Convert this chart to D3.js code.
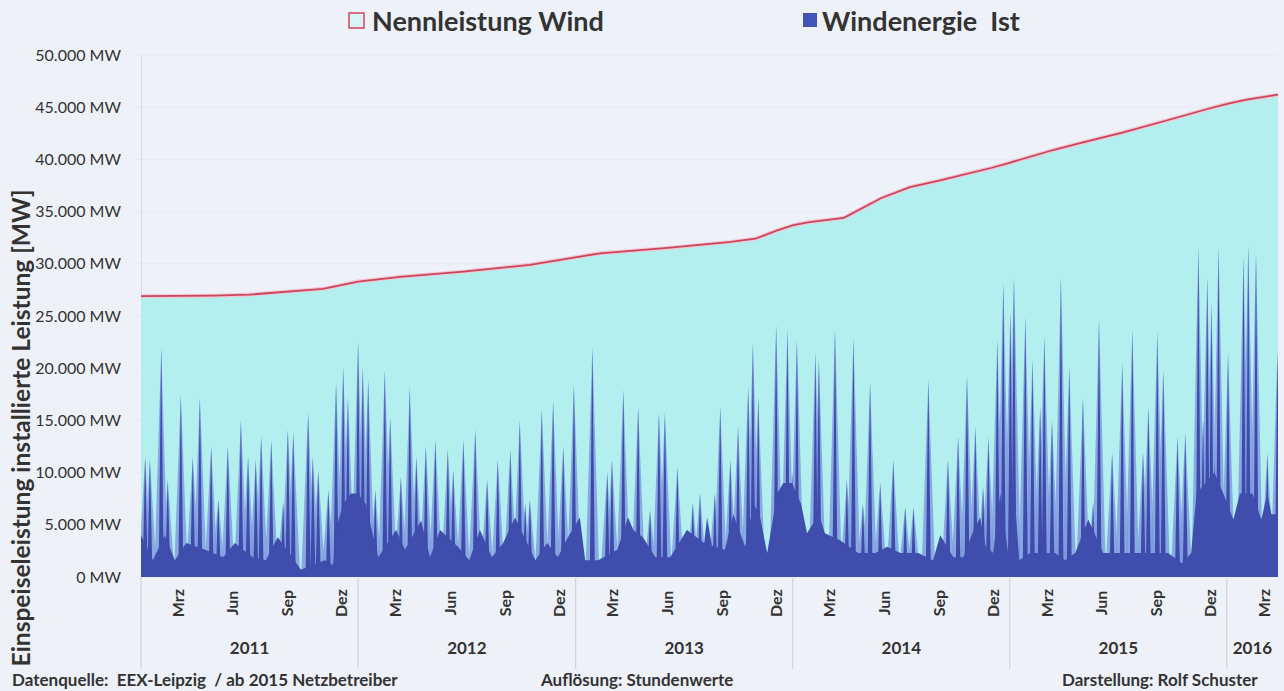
<!DOCTYPE html>
<html>
<head>
<meta charset="utf-8">
<script src="https://cdn.jsdelivr.net/npm/d3@7"></script>
<style>
   body { margin: 0; background: #eef1f8; }
   text { font-family: Lato, "Open Sans", sans-serif; fill: #333; }
</style>
</head>
<body>
<div id="chart"></div>
<script>
//--------------------------------------------------------------
// DATA (days counted from 1 Jan 2011, values in MW)
//--------------------------------------------------------------
// installed capacity (Nennleistung)
var capacityDays = [0, 121, 183, 306, 365, 436, 542, 654, 733, 772, 881, 992, 1033, 1070, 1097,
   1124, 1182, 1245, 1293, 1344, 1431, 1462, 1534, 1579, 1652, 1726, 1798, 1825, 1857, 1912];
var capacityMW = [26900, 26950, 27050, 27600, 28300, 28750, 29250, 29900, 30650, 31000, 31500, 32100, 32400, 33200, 33700,
   34000, 34400, 36300, 37350, 38000, 39200, 39700, 40900, 41550, 42600, 43750, 44900, 45300, 45700, 46200];

// wind feed-in: storm peaks
var spikeDays = [7, 15, 34, 45, 67, 87, 99, 118, 130, 146, 168, 180, 193, 202, 219, 239, 247, 256, 281, 289,
   298, 315, 328, 340, 348, 365, 373, 382, 394, 410, 419, 437, 452, 463, 479, 495, 516, 525, 542, 562,
   582, 600, 621, 637, 646, 654, 674, 693, 710, 728, 759, 784, 792, 811, 836, 856, 871, 881, 902, 928,
   940, 965, 974, 991, 1004, 1021, 1029, 1038, 1068, 1087, 1095, 1103, 1134, 1140, 1167, 1187, 1198, 1214, 1226, 1243,
   1265, 1285, 1299, 1324, 1357, 1374, 1389, 1403, 1416, 1425, 1440, 1450, 1462, 1468, 1487, 1499, 1512, 1519, 1532, 1547,
   1561, 1584, 1601, 1611, 1633, 1650, 1667, 1685, 1694, 1709, 1719, 1743, 1756, 1778, 1786, 1793, 1800, 1805, 1812, 1828,
   1854, 1862, 1875, 1894, 1911];
var spikeMW = [11500, 11200, 21900, 9300, 17400, 11500, 17200, 12500, 7400, 12500, 15000, 11500, 11200, 13400, 13100, 7100, 14100, 13800, 15700, 11500,
   10200, 8300, 18600, 20100, 17200, 22500, 20100, 18900, 8300, 19800, 15300, 9600, 18200, 11500, 12500, 13100, 12200, 10200, 13100, 14100,
   9300, 11200, 12200, 15000, 7000, 7400, 16000, 16800, 12500, 18400, 22000, 10000, 11200, 17900, 16300, 6400, 15700, 15700, 10500, 7100,
   8000, 8000, 16300, 11200, 14400, 18200, 22400, 17200, 24100, 23700, 10000, 22700, 21500, 20800, 23700, 9300, 22900, 7000, 18600, 9000,
   11200, 6700, 6700, 18900, 11200, 13400, 19200, 14400, 8600, 13400, 22700, 28200, 25300, 28700, 24900, 20800, 16300, 23000, 15000, 28700,
   20100, 17200, 7100, 24600, 11900, 20500, 23700, 11900, 16300, 23400, 19800, 13400, 13800, 31600, 15000, 28700, 26200, 11000, 31600, 21500,
   30700, 31800, 31000, 11900, 21500];

// wind feed-in: low level between the peaks
var baseDays = [0, 20, 40, 57, 76, 108, 138, 158, 188, 210, 230, 269, 309, 323, 330, 340, 353, 365, 378, 390,
   399, 429, 444, 471, 486, 503, 533, 552, 570, 590, 609, 629, 663, 683, 701, 718, 738, 747, 769, 801,
   819, 828, 844, 865, 890, 918, 947, 952, 960, 982, 996, 1016, 1030, 1040, 1053, 1070, 1080, 1095, 1110, 1120,
   1140, 1150, 1176, 1206, 1235, 1255, 1277, 1307, 1332, 1344, 1366, 1383, 1398, 1411, 1420, 1433, 1445, 1458, 1470, 1477,
   1495, 1505, 1526, 1537, 1554, 1571, 1593, 1618, 1642, 1658, 1675, 1702, 1727, 1751, 1766, 1775, 1790, 1805, 1820, 1837,
   1848, 1869, 1884, 1894, 1901, 1912];
var baseMW = [4000, 1600, 4000, 1600, 3250, 2600, 1900, 3250, 1900, 1600, 3800, 700, 1600, 1150, 5000, 7000, 8000, 8000, 7000, 4000,
   1900, 4500, 2600, 5400, 1900, 4500, 2900, 1600, 4500, 1900, 3250, 5700, 1600, 3250, 1900, 3800, 5700, 1600, 1600, 2600,
   5700, 4500, 3800, 1900, 1900, 4500, 3250, 5700, 3000, 2600, 6000, 2900, 7000, 6000, 2300, 8000, 9000, 9000, 7000, 4200,
   6000, 4200, 3500, 2300, 2300, 2900, 2300, 2300, 1600, 4000, 1900, 1900, 4200, 5700, 3000, 2300, 8000, 2300, 7000, 1600,
   2300, 2300, 2300, 2300, 1600, 2300, 5500, 2300, 2300, 2300, 2300, 2300, 2300, 1300, 2300, 8000, 9000, 10000, 8000, 5500,
   8000, 8000, 5500, 8000, 6000, 6000];

var yTicks = [0, 5000, 10000, 15000, 20000, 25000, 30000, 35000, 40000, 45000, 50000];
var monthIndex = [2, 5, 8, 11];
var monthLabels = ["Mrz", "Jun", "Sep", "Dez"];
var years = [2011, 2012, 2013, 2014, 2015, 2016];
var legendLabels = ["Nennleistung Wind", "Windenergie  Ist"];
var yTitle = "Einspeiseleistung installierte Leistung [MW]";
var footerTexts = ["Datenquelle:  EEX-Leipzig  / ab 2015 Netzbetreiber", "Auflösung: Stundenwerte", "Darstellung: Rolf Schuster"];

//--------------------------------------------------------------
// CHART SIZE PARAMETERS
//--------------------------------------------------------------
var width = 1284;
var height = 691;
var margin = { top: 55, right: 6, bottom: 114, left: 141 };
var chartWidth = width - margin.left - margin.right;
var chartHeight = height - margin.top - margin.bottom;

var startDate = new Date(2011, 0, 1);
var endDate = d3.timeDay.offset(startDate, 1912);
function toDate(n) { return d3.timeDay.offset(startDate, n); }

var capacity = capacityDays.map((d, i) => ({ date: toDate(d), value: capacityMW[i] }));
var spikes = spikeDays.map((d, i) => ({ date: toDate(d), value: spikeMW[i] }));
var base = baseDays.map((d, i) => ({ date: toDate(d), value: baseMW[i] }));

var de = d3.formatLocale({ decimal: ",", thousands: ".", grouping: [3], currency: ["", " €"] });
var fmt = de.format(",");

//--------------------------------------------------------------
// SVG + SCALES
//--------------------------------------------------------------
var svg = d3.select("#chart").append("svg")
   .attr("width", width)
   .attr("height", height);

svg.append("rect").attr("width", width).attr("height", height).attr("fill", "#eef1f8");

var defs = svg.append("defs");
defs.append("clipPath").attr("id", "plotClip")
   .append("rect")
   .attr("width", chartWidth)
   .attr("height", chartHeight);

var chartGroup = svg.append("g")
   .attr("transform", `translate(${margin.left}, ${margin.top})`);

var xScale = d3.scaleTime().domain([startDate, endDate]).range([0, chartWidth]);
var yScale = d3.scaleLinear().domain([0, 50000]).range([chartHeight, 0]);

// faint gridlines
chartGroup.append("g")
   .selectAll("line")
   .data(yTicks)
   .enter()
   .append("line")
   .attr("x1", -6)
   .attr("x2", chartWidth)
   .attr("y1", d => yScale(d))
   .attr("y2", d => yScale(d))
   .attr("stroke", "#e6e9f2")
   .attr("stroke-width", 1);

// y axis labels
var leftAxis = d3.axisLeft(yScale)
   .tickValues(yTicks)
   .tickSize(0)
   .tickPadding(20)
   .tickFormat(d => fmt(d) + " MW");
var yAxis = chartGroup.append("g").call(leftAxis);
yAxis.select(".domain").attr("stroke", "#d8dce8");
yAxis.selectAll("text")
   .style("font-size", "16px")
   .style("font-family", "Lato, sans-serif")
   .attr("fill", "#2a2a2a");

//--------------------------------------------------------------
// AREAS
//--------------------------------------------------------------
var plot = chartGroup.append("g").attr("clip-path", "url(#plotClip)");

var capArea = d3.area()
   .x(d => xScale(d.date))
   .y0(yScale(0))
   .y1(d => yScale(d.value));
plot.append("path")
   .datum(capacity)
   .attr("d", capArea)
   .attr("fill", "#b2efee");

// each storm peak drawn as a narrow needle (outer lighter halo + dark core)
function needle(d, hw) {
   var x = xScale(d.date);
   return d3.line()([[x - hw, yScale(0)], [x, yScale(d.value)], [x + hw, yScale(0)]]) + "Z";
}
plot.append("g")
   .selectAll("path")
   .data(spikes)
   .enter()
   .append("path")
   .attr("d", d => needle(d, 7))
   .attr("fill", "#7d97df")
   .attr("opacity", 0.8);
plot.append("g")
   .selectAll("path")
   .data(spikes)
   .enter()
   .append("path")
   .attr("d", d => needle(d, 2.6))
   .attr("fill", "#3e4bab");

var baseArea = d3.area()
   .x(d => xScale(d.date))
   .y0(yScale(0))
   .y1(d => yScale(d.value));
plot.append("path")
   .datum(base)
   .attr("d", baseArea)
   .attr("fill", "#3f4dac");

// capacity line
var capLine = d3.line()
   .x(d => xScale(d.date))
   .y(d => yScale(d.value));
chartGroup.append("path")
   .datum(capacity)
   .attr("d", capLine)
   .attr("fill", "none")
   .attr("stroke", "#f4c6d2")
   .attr("stroke-width", 4);
chartGroup.append("path")
   .datum(capacity)
   .attr("d", capLine)
   .attr("fill", "none")
   .attr("stroke", "#c9465f")
   .attr("stroke-width", 1.8);

//--------------------------------------------------------------
// X AXIS: months + years
//--------------------------------------------------------------
var xAxisGroup = chartGroup.append("g").attr("transform", `translate(0, ${chartHeight})`);

var months = [];
years.forEach(y => monthIndex.forEach((m, i) => {
   var d = new Date(y, m, 1);
   if (d <= endDate) months.push({ date: d, label: monthLabels[i] });
}));

xAxisGroup.selectAll("text.month")
   .data(months)
   .enter()
   .append("text")
   .attr("class", "month")
   .attr("transform", d => `translate(${xScale(d.date) + 2}, 26) rotate(-90)`)
   .attr("text-anchor", "middle")
   .attr("dy", "0.35em")
   .style("font-size", "16px")
   .style("font-weight", "bold")
   .text(d => d.label);

var yearStarts = years.map(y => new Date(y, 0, 1));
xAxisGroup.selectAll("line.sep")
   .data(yearStarts)
   .enter()
   .append("line")
   .attr("x1", d => xScale(d))
   .attr("x2", d => xScale(d))
   .attr("y1", 1)
   .attr("y2", 92)
   .attr("stroke", "#c9cdd9")
   .attr("stroke-width", 1);

xAxisGroup.selectAll("text.year")
   .data(years)
   .enter()
   .append("text")
   .attr("class", "year")
   .attr("x", y => {
      var a = xScale(new Date(y, 0, 1));
      var b = xScale(d3.min([new Date(y + 1, 0, 1), endDate]));
      return (a + b) / 2;
   })
   .attr("y", 71)
   .attr("dy", "0.35em")
   .attr("text-anchor", "middle")
   .style("font-size", "17px")
   .style("font-weight", "bold")
   .text(d => d);

//--------------------------------------------------------------
// TITLES, LEGEND, FOOTER
//--------------------------------------------------------------
svg.append("text")
   .attr("transform", "translate(21, 428) rotate(-90)")
   .attr("text-anchor", "middle")
   .attr("dy", "0.35em")
   .style("font-size", "24.5px")
   .style("font-weight", "bold")
   .attr("fill", "#444")
   .text(yTitle);

var legend = svg.append("g");
legend.append("rect")
   .attr("x", 349).attr("y", 13).attr("width", 15).attr("height", 15)
   .attr("fill", "#d8f4f4").attr("stroke", "#d05068").attr("stroke-width", 1.6);
legend.append("text")
   .attr("x", 372).attr("y", 31)
   .style("font-size", "27px")
   .style("font-weight", "bold")
   .text(legendLabels[0]);
legend.append("rect")
   .attr("x", 803).attr("y", 13).attr("width", 14).attr("height", 14)
   .attr("fill", "#4354b8");
legend.append("text")
   .attr("x", 822).attr("y", 31)
   .style("font-size", "27px")
   .style("font-weight", "bold")
   .style("white-space", "pre")
   .text(legendLabels[1]);

var footerX = [12, 541, 1062];
svg.selectAll("text.footer")
   .data(footerTexts)
   .enter()
   .append("text")
   .attr("class", "footer")
   .attr("x", (d, i) => footerX[i])
   .attr("y", 686)
   .style("font-size", "17px")
   .style("font-weight", "bold")
   .style("white-space", "pre")
   .text(d => d);
</script>
</body>
</html>
